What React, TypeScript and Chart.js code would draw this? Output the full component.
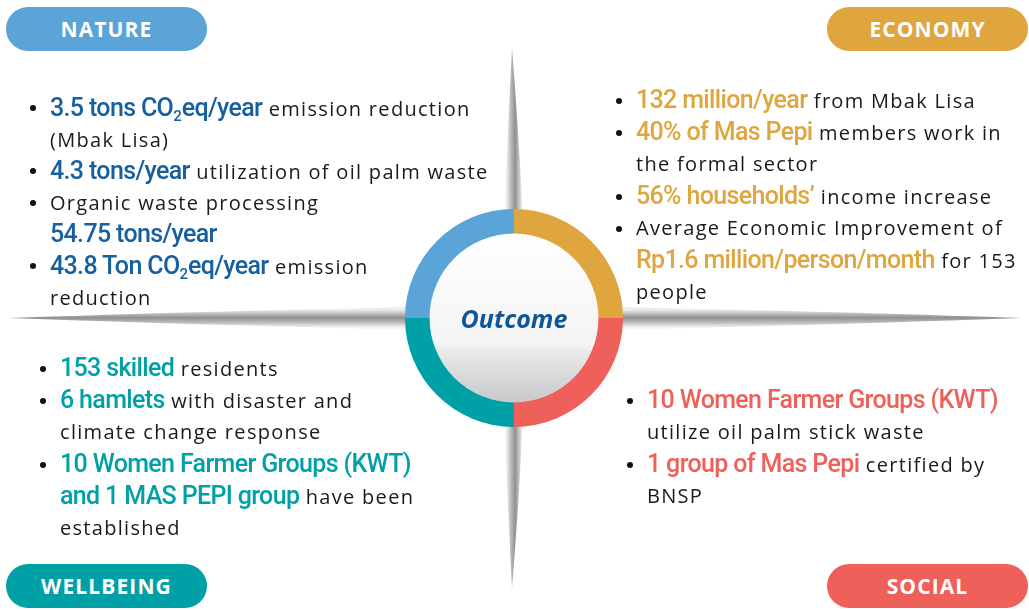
import React, { useEffect, useRef } from "react";
import { Chart, registerables } from "chart.js";
Chart.register(...registerables);

// ---- data ----
const outcomeLabels = ["Economy", "Social", "Wellbeing", "Nature"];
const outcomeShares = [1, 1, 1, 1];
const outcomeColors = ["#dfa53e", "#ef605a", "#00a0a7", "#5aa4d7"];
const centerLabel = "Outcome";

type Seg = [string, boolean];
const natureItems: Seg[][][] = [
  [[["3.5 tons CO₂eq/year", true], [" emission reduction", false]], [["(Mbak Lisa)", false]]],
  [[["4.3 tons/year", true], [" utilization of oil palm waste", false]]],
  [[["Organic waste processing", false]], [["54.75 tons/year", true]]],
  [[["43.8 Ton CO₂eq/year", true], [" emission", false]], [["reduction", false]]],
];
const economyItems: Seg[][][] = [
  [[["132 million/year", true], [" from Mbak Lisa", false]]],
  [[["40% of Mas Pepi", true], [" members work in", false]], [["the formal sector", false]]],
  [[["56% households’", true], [" income increase", false]]],
  [
    [["Average Economic Improvement of", false]],
    [["Rp1.6 million/person/month", true], [" for 153", false]],
    [["people", false]],
  ],
];
const wellbeingItems: Seg[][][] = [
  [[["153 skilled", true], [" residents", false]]],
  [[["6 hamlets", true], [" with disaster and", false]], [["climate change response", false]]],
  [
    [["10 Women Farmer Groups (KWT)", true]],
    [["and 1 MAS PEPI group", true], [" have been", false]],
    [["established", false]],
  ],
];
const socialItems: Seg[][][] = [
  [[["10 Women Farmer Groups (KWT)", true]], [["utilize oil palm stick waste", false]]],
  [[["1 group of Mas Pepi", true], [" certified by", false]], [["BNSP", false]]],
];

const textColors = { Nature: "#17609f", Economy: "#dfa53e", Social: "#ef605a", Wellbeing: "#00a0a7" };

const BODY_FONT = "'Open Sans', 'Noto Sans', sans-serif";
const HI_FONT = "Roboto, 'Noto Sans', sans-serif";

function renderSegText(t: string) {
  const parts = t.split("₂");
  const out: any[] = [];
  parts.forEach((p, i) => {
    out.push(<React.Fragment key={"p" + i}>{p}</React.Fragment>);
    if (i < parts.length - 1)
      out.push(
        <span key={"s" + i} style={{ fontSize: "0.6em", position: "relative", top: "0.35em", letterSpacing: 0 }}>
          2
        </span>
      );
  });
  return out;
}

function Block(props: { items: Seg[][][]; left: number; top: number; lineH: number; color: string }) {
  const { items, left, top, lineH, color } = props;
  const rows: any[] = [];
  let k = 0;
  items.forEach((item) => {
    item.forEach((line, li) => {
      rows.push(
        <div
          key={k}
          style={{
            position: "absolute",
            left: 0,
            top: k * lineH,
            height: lineH,
            lineHeight: lineH + "px",
            whiteSpace: "nowrap",
          }}
        >
          {li === 0 && (
            <span
              style={{
                position: "absolute",
                left: -20,
                top: lineH / 2 - 2.5,
                width: 6,
                height: 6,
                borderRadius: 3,
                background: "#111",
              }}
            />
          )}
          {line.map((s, si) =>
            s[1] ? (
              <span
                key={si}
                style={{ fontFamily: HI_FONT, fontWeight: 500, fontSize: 25, letterSpacing: "-0.65px", color }}
              >
                {renderSegText(s[0])}
              </span>
            ) : (
              <span
                key={si}
                style={{ fontFamily: BODY_FONT, fontSize: 20, letterSpacing: "1.3px", color: "#1a1a1a" }}
              >
                {s[0]}
              </span>
            )
          )}
        </div>
      );
      k++;
    });
  });
  return <div style={{ position: "absolute", left, top }}>{rows}</div>;
}

function Pill(props: { text: string; left: number; top: number; color: string }) {
  return (
    <div
      style={{
        position: "absolute",
        left: props.left,
        top: props.top,
        width: 201,
        height: 44,
        borderRadius: 22,
        background: props.color,
        color: "#fff",
        fontFamily: "'Open Sans', sans-serif",
        fontWeight: 700,
        fontSize: 21,
        letterSpacing: "1.1px",
        lineHeight: "44px",
        textAlign: "center",
      }}
    >
      {props.text}
    </div>
  );
}

const crossPlugin = {
  id: "cross",
  beforeDatasetsDraw(chart: any) {
    const ctx = chart.ctx;
    const cx = 514, cy = 318;
    ctx.save();
    // horizontal
    let g = ctx.createLinearGradient(0, cy - 12, 0, cy + 14);
    g.addColorStop(0, "rgba(200,200,200,0.9)");
    g.addColorStop(0.12, "#f2f2f2");
    g.addColorStop(0.45, "#909090");
    g.addColorStop(0.65, "#c0c0c0");
    g.addColorStop(1, "rgba(255,255,255,0)");
    ctx.fillStyle = g;
    ctx.beginPath();
    ctx.moveTo(8, cy);
    ctx.quadraticCurveTo(300, cy - 10, cx, cy - 12);
    ctx.quadraticCurveTo(730, cy - 10, 1022, cy);
    ctx.quadraticCurveTo(730, cy + 10, cx, cy + 14);
    ctx.quadraticCurveTo(300, cy + 10, 8, cy);
    ctx.fill();
    // vertical
    g = ctx.createLinearGradient(cx - 12, 0, cx + 12, 0);
    g.addColorStop(0, "rgba(255,255,255,0)");
    g.addColorStop(0.35, "#c0c0c0");
    g.addColorStop(0.55, "#909090");
    g.addColorStop(0.85, "#f2f2f2");
    g.addColorStop(1, "rgba(200,200,200,0.9)");
    ctx.fillStyle = g;
    ctx.beginPath();
    ctx.moveTo(cx - 2, 48);
    ctx.quadraticCurveTo(cx - 10, 200, cx - 12, cy);
    ctx.quadraticCurveTo(cx - 10, 440, cx - 2, 588);
    ctx.quadraticCurveTo(cx + 10, 440, cx + 12, cy);
    ctx.quadraticCurveTo(cx + 10, 200, cx - 2, 48);
    ctx.fill();
    ctx.restore();
  },
  afterDatasetsDraw(chart: any) {
    const meta = chart.getDatasetMeta(0);
    const arc = meta.data[0];
    if (!arc) return;
    const { x, y, innerRadius } = arc.getProps(["x", "y", "innerRadius"], true);
    const ctx = chart.ctx;
    ctx.save();
    const g = ctx.createLinearGradient(0, y - innerRadius, 0, y + innerRadius);
    g.addColorStop(0, "#ffffff");
    g.addColorStop(0.66, "#f4f4f5");
    g.addColorStop(0.7, "#e9e9ea");
    g.addColorStop(1, "#c8c9cb");
    ctx.fillStyle = g;
    ctx.beginPath();
    ctx.arc(x, y, innerRadius + 0.5, 0, Math.PI * 2);
    ctx.fill();
    ctx.restore();
  },
};

export default function App() {
  const ref = useRef<HTMLCanvasElement>(null);
  useEffect(() => {
    if (!ref.current) return;
    const chart = new Chart(ref.current, {
      type: "doughnut",
      data: {
        labels: outcomeLabels,
        datasets: [
          {
            data: outcomeShares,
            backgroundColor: outcomeColors,
            borderWidth: 0,
            hoverBorderWidth: 0,
            offset: 0,
            hoverOffset: 0,
          } as any,
        ],
      },
      options: {
        responsive: false,
        animation: false,
        cutout: "77%",
        rotation: 0,
        layout: { padding: { left: 405, right: 406, top: 209, bottom: 183 } },
        plugins: { legend: { display: false }, tooltip: { enabled: false } },
        events: [],
      } as any,
      plugins: [crossPlugin],
    });
    return () => chart.destroy();
  }, []);

  return (
    <div style={{ position: "absolute", left: 0, top: 0, width: 1029, height: 610, background: "#fff", overflow: "hidden" }}>
      <canvas ref={ref} width={1029} height={610} style={{ position: "absolute", left: 0, top: 0 }} />
      <Pill text="NATURE" left={6} top={7} color="#5aa4d7" />
      <Pill text="ECONOMY" left={827} top={7} color="#dfa53e" />
      <Pill text="WELLBEING" left={6} top={564} color="#00a0a7" />
      <Pill text="SOCIAL" left={827} top={564} color="#ef605a" />
      <Block items={natureItems} left={50} top={92} lineH={31.6} color={textColors.Nature} />
      <Block items={economyItems} left={636} top={84} lineH={32} color={textColors.Economy} />
      <Block items={wellbeingItems} left={60} top={352} lineH={32} color={textColors.Wellbeing} />
      <Block items={socialItems} left={647} top={384} lineH={32} color={textColors.Social} />
      <div
        style={{
          position: "absolute",
          left: 414,
          top: 300,
          width: 200,
          textAlign: "center",
          fontFamily: "'Open Sans', sans-serif",
          fontWeight: 700,
          fontStyle: "italic",
          fontSize: 25,
          lineHeight: "36px",
          color: "#0d5698",
        }}
      >
        {centerLabel}
      </div>
    </div>
  );
}
